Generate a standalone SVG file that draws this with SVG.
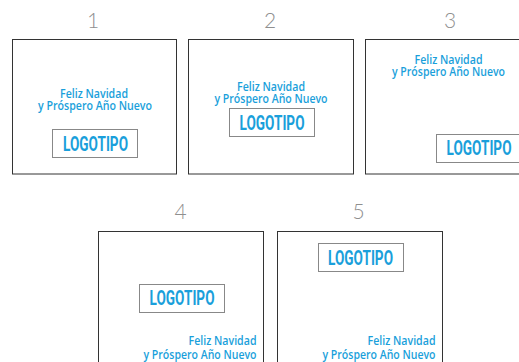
<svg xmlns="http://www.w3.org/2000/svg" width="519" height="362" viewBox="0 0 519 362">
<style>
.panel{fill:#fff;stroke:#333;stroke-width:1}
.num{font-family:Lato,"Open Sans",sans-serif;font-weight:300;font-size:21px;fill:#8f8f8f;text-anchor:middle}
.greet{font-family:"Open Sans","Noto Sans",sans-serif;font-weight:600;font-size:11.8px;fill:#1a9fdb}
.logo{fill:none;stroke:#111;stroke-width:1;stroke-dasharray:1 1}
.logot{font-family:"Liberation Sans Narrow",Roboto,"DejaVu Sans",sans-serif;font-weight:bold;font-size:19.5px;fill:#1a9fdb}
</style>
<rect width="519" height="362" fill="#fff"/>
<g id="connectors"></g>
<g id="panel1">
<text class="num" x="93" y="28">1</text>
<rect class="panel" x="12.5" y="39.5" width="164" height="134.5"/>
<text class="greet" x="94" y="98" text-anchor="middle" textLength="68" lengthAdjust="spacingAndGlyphs">Feliz Navidad</text>
<text class="greet" x="95" y="110" text-anchor="middle" textLength="114" lengthAdjust="spacingAndGlyphs">y Próspero Año Nuevo</text>
<rect class="logo" x="52.5" y="129.5" width="85" height="28"/>
<text class="logot" x="63" y="151" textLength="65" lengthAdjust="spacingAndGlyphs">LOGOTIPO</text>
</g>
<g id="panel2">
<text class="num" x="270" y="28">2</text>
<rect class="panel" x="188.5" y="39.5" width="165" height="134.5"/>
<text class="greet" x="271" y="91" text-anchor="middle" textLength="68" lengthAdjust="spacingAndGlyphs">Feliz Navidad</text>
<text class="greet" x="271" y="103" text-anchor="middle" textLength="113" lengthAdjust="spacingAndGlyphs">y Próspero Año Nuevo</text>
<rect class="logo" x="229.5" y="108.5" width="85" height="28"/>
<text class="logot" x="239.5" y="130" textLength="65" lengthAdjust="spacingAndGlyphs">LOGOTIPO</text>
</g>
<g id="panel3">
<text class="num" x="450" y="28">3</text>
<rect class="panel" x="365.5" y="39.5" width="165" height="134.5"/>
<text class="greet" x="448.5" y="64" text-anchor="middle" textLength="68" lengthAdjust="spacingAndGlyphs">Feliz Navidad</text>
<text class="greet" x="448.5" y="76" text-anchor="middle" textLength="113" lengthAdjust="spacingAndGlyphs">y Próspero Año Nuevo</text>
<rect class="logo" x="436.5" y="134.5" width="85" height="28"/>
<text class="logot" x="446.5" y="155" textLength="65" lengthAdjust="spacingAndGlyphs">LOGOTIPO</text>
</g>
<g id="panel4">
<text class="num" x="180.5" y="219">4</text>
<rect class="panel" x="98.5" y="231.5" width="165" height="135"/>
<rect class="logo" x="139.5" y="284.5" width="85" height="28"/>
<text class="logot" x="149.5" y="305" textLength="65" lengthAdjust="spacingAndGlyphs">LOGOTIPO</text>
<text class="greet" x="256.5" y="345" text-anchor="end" textLength="68" lengthAdjust="spacingAndGlyphs">Feliz Navidad</text>
<text class="greet" x="256.5" y="358.5" text-anchor="end" textLength="113" lengthAdjust="spacingAndGlyphs">y Próspero Año Nuevo</text>
</g>
<g id="panel5">
<text class="num" x="358.5" y="219">5</text>
<rect class="panel" x="277.5" y="231.5" width="165" height="135"/>
<rect class="logo" x="318.5" y="243.5" width="85" height="28"/>
<text class="logot" x="328" y="264.5" textLength="65" lengthAdjust="spacingAndGlyphs">LOGOTIPO</text>
<text class="greet" x="435.5" y="345" text-anchor="end" textLength="68" lengthAdjust="spacingAndGlyphs">Feliz Navidad</text>
<text class="greet" x="435.5" y="358.5" text-anchor="end" textLength="113" lengthAdjust="spacingAndGlyphs">y Próspero Año Nuevo</text>
</g>
</svg>
